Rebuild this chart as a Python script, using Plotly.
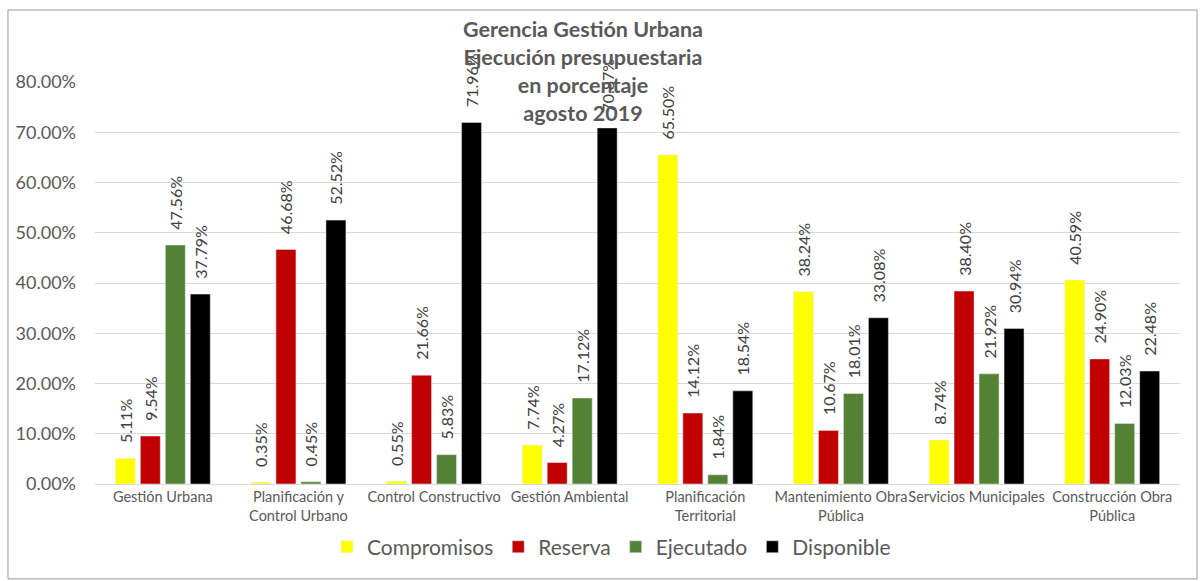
import plotly.graph_objects as go

categories = ["Gestión Urbana", "Planificación y<br>Control Urbano", "Control Constructivo",
              "Gestión Ambiental", "Planificación<br>Territorial", "Mantenimiento Obra<br>Pública",
              "Servicios Municipales", "Construcción Obra<br>Pública"]
compromisos = [0.0511, 0.0035, 0.0055, 0.0774, 0.6550, 0.3824, 0.0874, 0.4059]
reserva = [0.0954, 0.4668, 0.2166, 0.0427, 0.1412, 0.1067, 0.3840, 0.2490]
ejecutado = [0.4756, 0.0045, 0.0583, 0.1712, 0.0184, 0.1801, 0.2192, 0.1203]
disponible = [0.3779, 0.5252, 0.7196, 0.7087, 0.1854, 0.3308, 0.3094, 0.2248]

series = [("Compromisos", compromisos, "#FFFF00"),
          ("Reserva", reserva, "#C00000"),
          ("Ejecutado", ejecutado, "#548235"),
          ("Disponible", disponible, "#000000")]

FONT = "Lato"
GRAY = "#595959"

fig = go.Figure()
for name, vals, col in series:
    fig.add_trace(go.Bar(
        name=name, x=categories, y=vals, marker_color=col,
        text=["\u00a0\u00a0\u00a0" + f"{v*100:.2f}%" for v in vals], textposition="outside",
        textangle=-90, constraintext="none", cliponaxis=False,
        textfont=dict(family=FONT, size=16, color="#404040"),
    ))

fig.update_layout(
    width=1204, height=581,
    margin=dict(l=95, r=24, t=82, b=97),
    paper_bgcolor="white", plot_bgcolor="white",
    barmode="group", bargap=0.263, bargroupgap=0.2,
    font=dict(family=FONT, color=GRAY),
    showlegend=True,
    legend=dict(orientation="h", x=0.476, xanchor="center", y=-0.157, yanchor="middle",
                font=dict(size=21, color=GRAY), itemwidth=30, traceorder="normal"),
    annotations=[dict(
        text="<b>Gerencia Gestión Urbana<br>Ejecución presupuestaria<br>en porcentaje<br>agosto 2019</b>",
        xref="paper", yref="paper", x=0.45, y=1.027, xanchor="center", yanchor="middle",
        showarrow=False, font=dict(family=FONT, size=21.5, color=GRAY), align="center")],
    shapes=[dict(type="rect", xref="paper", yref="paper", x0=-0.0802, x1=1.0157,
                 y0=-0.236, y1=1.179, line=dict(color="#9a9a9a", width=1), layer="below")],
)
fig.update_yaxes(range=[0, 0.8], tickformat=".2%", dtick=0.1, showgrid=True,
                 gridcolor="#d9d9d9", gridwidth=1, zeroline=False, showline=False,
                 tickfont=dict(size=18, color=GRAY), ticklabelstandoff=18)
fig.update_xaxes(showline=True, linecolor="#d9d9d9", linewidth=1, showgrid=False,
                 tickfont=dict(size=14.5, color=GRAY), tickangle=0)

fig.write_html("out.html", config={"displayModeBar": False},
               post_script="document.body.style.margin='0';")
